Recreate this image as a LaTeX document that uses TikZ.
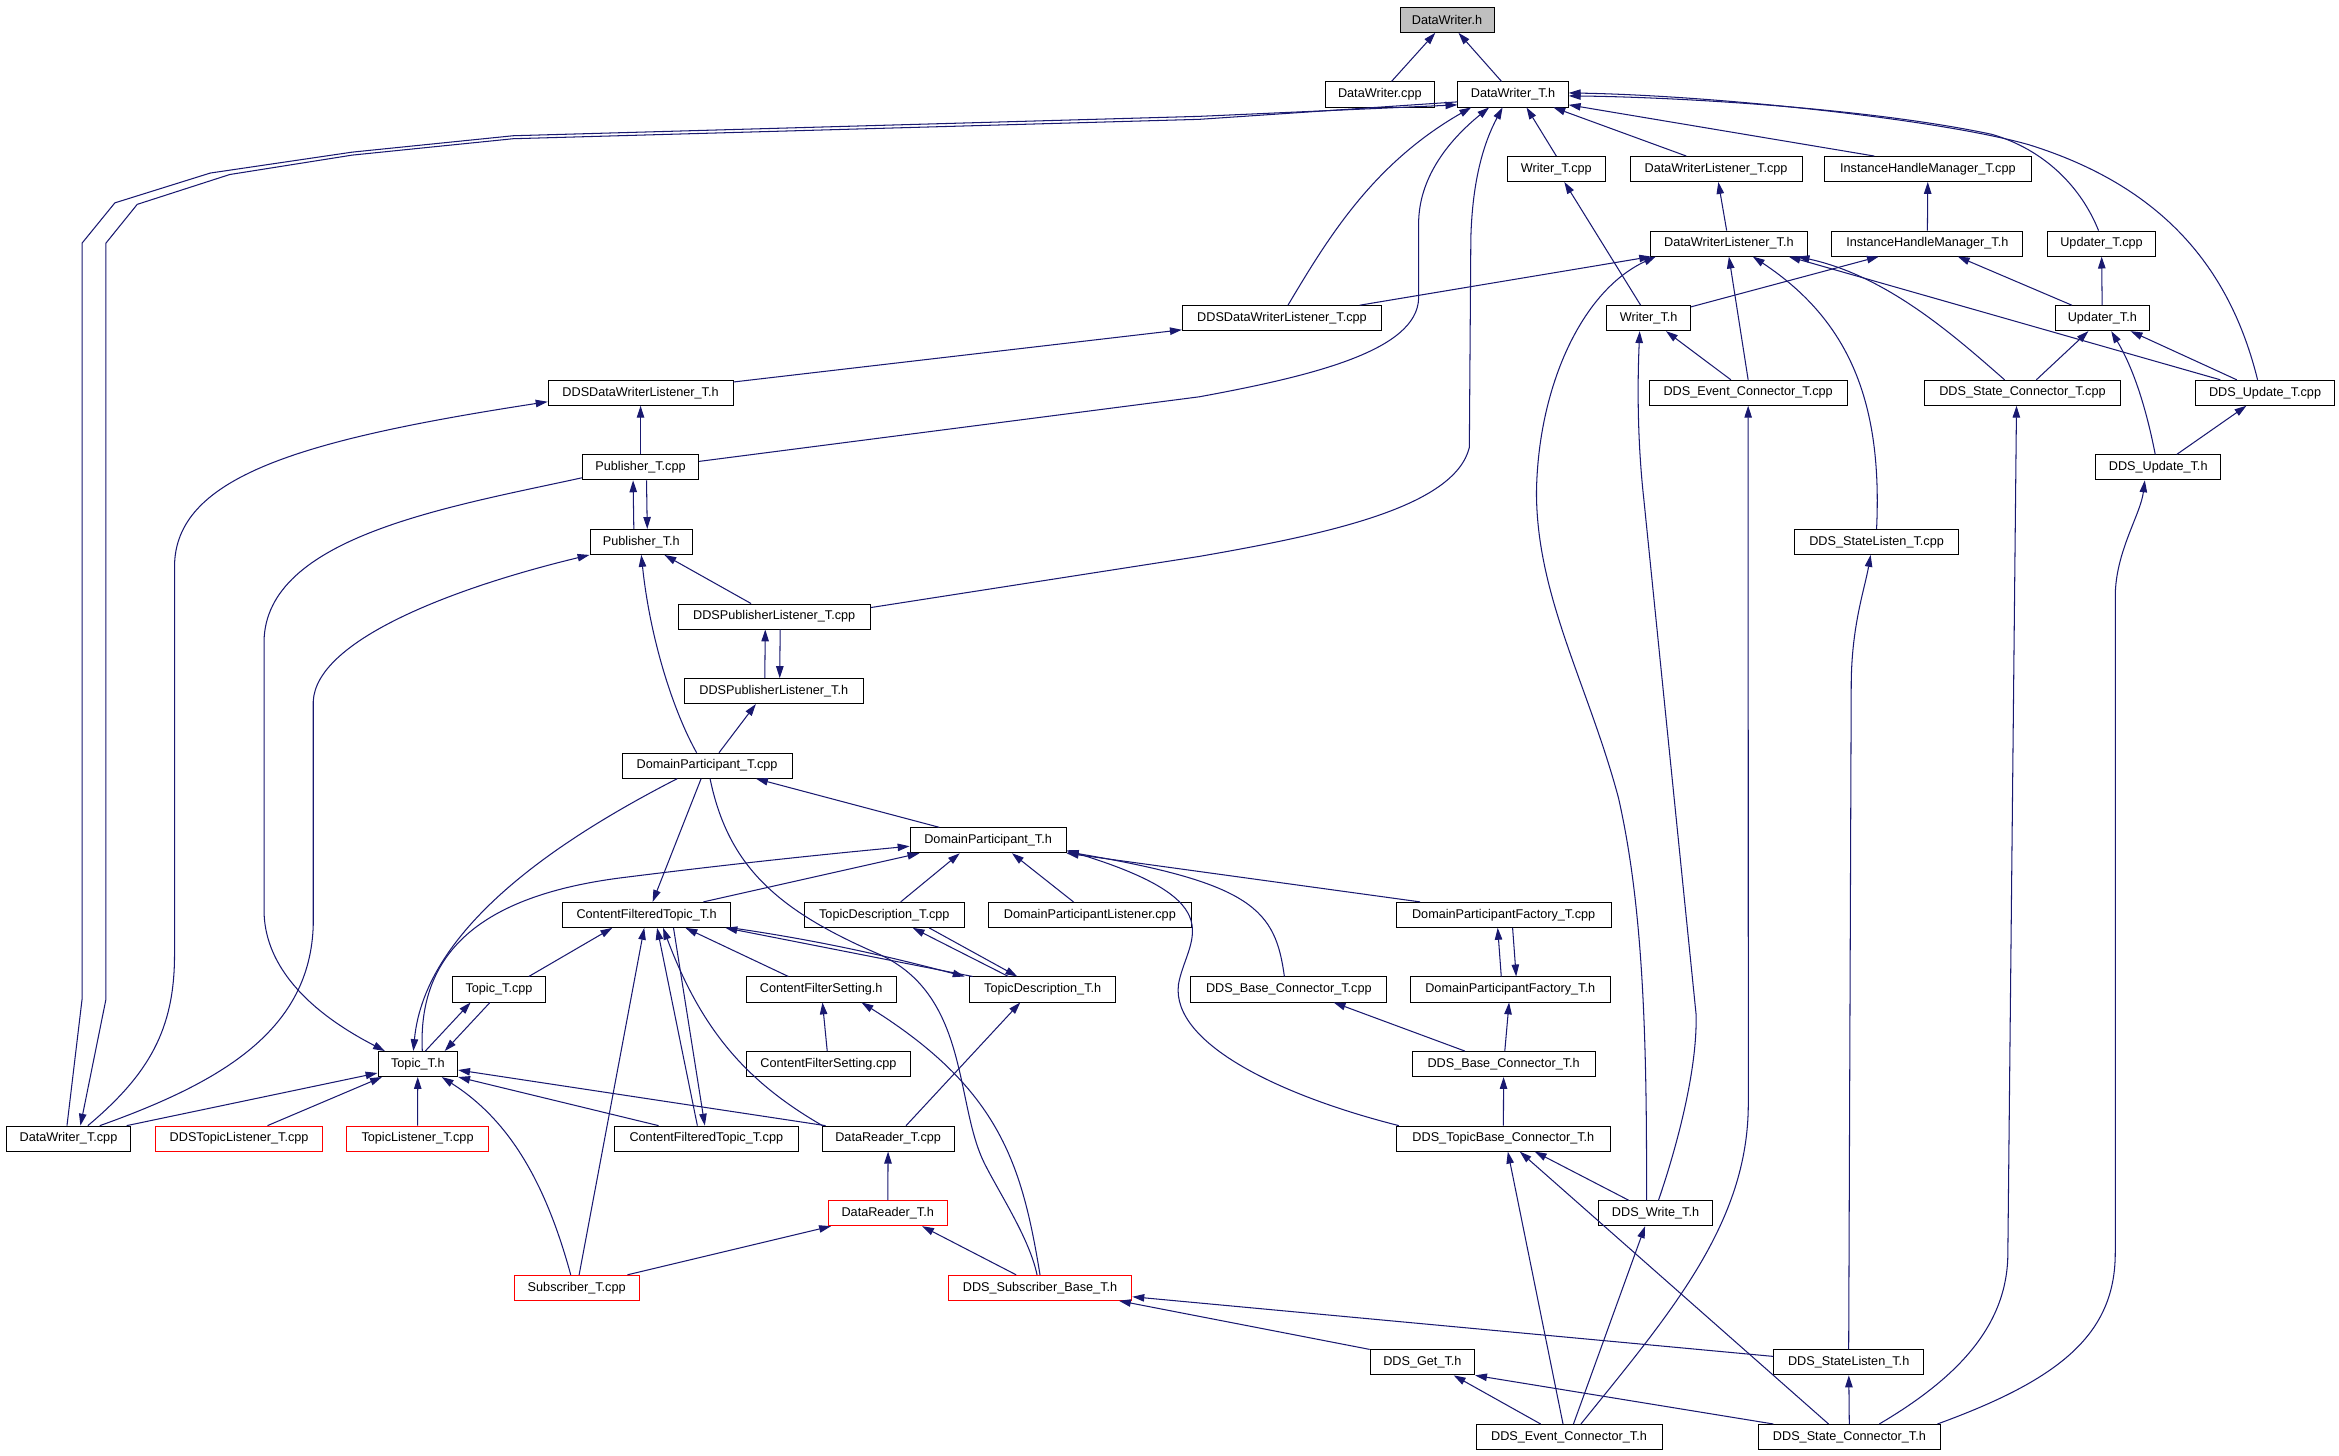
\documentclass[tikz,border=0pt]{standalone}
\usepackage{fontspec}
\setmainfont{Liberation Sans}
\usetikzlibrary{arrows.meta}
\definecolor{edgeblue}{HTML}{191970}
\definecolor{rootgrey}{HTML}{BFBFBF}

\begin{document}
\begin{tikzpicture}[x=1pt, y=-1pt,
	file/.style={draw, line width=0.6pt, fill=white, minimum height=16.8pt, inner sep=1pt, font=\fontsize{8.5}{10}\selectfont},
	redfile/.style={file, draw=red},
	dep/.style={draw=edgeblue, line width=0.7pt, -{Triangle[length=8pt, width=5pt]}},
	link/.style={draw=edgeblue, line width=0.7pt}]
	\useasboundingbox (0,0) rectangle (1568,976);

	% files, row by row
	\node[file, fill=rootgrey, minimum width=63pt] (dwh) at (970,13.3) {DataWriter.h};
	\node[file, minimum width=73.5pt] (dwcpp) at (925,63.3) {DataWriter.cpp};
	\node[file, minimum width=74pt] (dwth) at (1014.3,63.3) {DataWriter\_T.h};
	\node[file, minimum width=65.7pt] (wtcpp) at (1043.3,113.3) {Writer\_T.cpp};
	\node[file, minimum width=115.4pt] (dwlcpp) at (1150.4,113.3) {DataWriterListener\_T.cpp};
	\node[file, minimum width=138.4pt] (ihmcpp) at (1292.4,113.3) {InstanceHandleManager\_T.cpp};
	\node[file, minimum width=105.2pt] (dwlh) at (1159,163.3) {DataWriterListener\_T.h};
	\node[file, minimum width=128pt] (ihmh) at (1292,163.3) {InstanceHandleManager\_T.h};
	\node[file, minimum width=72pt] (updcpp) at (1408.8,163.3) {Updater\_T.cpp};
	\node[file, minimum width=133.6pt] (ddwlcpp) at (859.4,213.3) {DDSDataWriterListener\_T.cpp};
	\node[file, minimum width=56pt] (wth) at (1105.2,213.3) {Writer\_T.h};
	\node[file, minimum width=63.4pt] (updh) at (1409.3,213.3) {Updater\_T.h};
	\node[file, minimum width=124pt] (ddwlh) at (429.4,263.3) {DDSDataWriterListener\_T.h};
	\node[file, minimum width=132.8pt] (evcpp) at (1171.9,263.3) {DDS\_Event\_Connector\_T.cpp};
	\node[file, minimum width=131.5pt] (stcpp) at (1355.8,263.3) {DDS\_State\_Connector\_T.cpp};
	\node[file, minimum width=93.5pt] (upcpp) at (1518.4,263.3) {DDS\_Update\_T.cpp};
	\node[file, minimum width=78pt] (pubcpp) at (429.4,313.3) {Publisher\_T.cpp};
	\node[file, minimum width=83.7pt] (uph) at (1446.8,313.3) {DDS\_Update\_T.h};
	\node[file, minimum width=68.8pt] (pubh) at (429.9,363.3) {Publisher\_T.h};
	\node[file, minimum width=109.6pt] (slcpp) at (1258,363.3) {DDS\_StateListen\_T.cpp};
	\node[file, minimum width=128.7pt] (dplcpp) at (519,413.3) {DDSPublisherListener\_T.cpp};
	\node[file, minimum width=120pt] (dplh) at (518.7,463.3) {DDSPublisherListener\_T.h};
	\node[file, minimum width=113.9pt] (dpcpp) at (474,513.3) {DomainParticipant\_T.cpp};
	\node[file, minimum width=104.7pt] (dph) at (662.4,563.3) {DomainParticipant\_T.h};
	\node[file, minimum width=112.9pt] (cfth) at (433.5,613.3) {ContentFilteredTopic\_T.h};
	\node[file, minimum width=107.2pt] (tdcpp) at (592.8,613.3) {TopicDescription\_T.cpp};
	\node[file, minimum width=136.5pt] (dplistcpp) at (730.6,613.3) {DomainParticipantListener.cpp};
	\node[file, minimum width=144.2pt] (dpfcpp) at (1008,613.3) {DomainParticipantFactory\_T.cpp};
	\node[file, minimum width=62.6pt] (tcpp) at (334.5,663.3) {Topic\_T.cpp};
	\node[file, minimum width=100.6pt] (cfsh) at (550.5,663.3) {ContentFilterSetting.h};
	\node[file, minimum width=98pt] (tdh) at (699,663.3) {TopicDescription\_T.h};
	\node[file, minimum width=131.3pt] (bccpp) at (864,663.3) {DDS\_Base\_Connector\_T.cpp};
	\node[file, minimum width=134.4pt] (dpfh) at (1012.4,663.3) {DomainParticipantFactory\_T.h};
	\node[file, minimum width=53.4pt] (th) at (280.1,713.3) {Topic\_T.h};
	\node[file, minimum width=110.3pt] (cfscpp) at (555.4,713.3) {ContentFilterSetting.cpp};
	\node[file, minimum width=122.8pt] (bch) at (1008,713.3) {DDS\_Base\_Connector\_T.h};
	\node[file, minimum width=83.6pt] (dwtcpp) at (45.9,763.3) {DataWriter\_T.cpp};
	\node[redfile, minimum width=112.3pt] (dtlcpp) at (160.3,763.3) {DDSTopicListener\_T.cpp};
	\node[redfile, minimum width=95pt] (tlcpp) at (279.9,763.3) {TopicListener\_T.cpp};
	\node[file, minimum width=123.1pt] (cftcpp) at (473.5,763.3) {ContentFilteredTopic\_T.cpp};
	\node[file, minimum width=88.7pt] (drcpp) at (595.4,763.3) {DataReader\_T.cpp};
	\node[file, minimum width=143.7pt] (tbh) at (1007.8,763.3) {DDS\_TopicBase\_Connector\_T.h};
	\node[redfile, minimum width=80pt] (drh) at (595.1,813.3) {DataReader\_T.h};
	\node[file, minimum width=76pt] (wrh) at (1109.8,813.3) {DDS\_Write\_T.h};
	\node[redfile, minimum width=83.6pt] (subcpp) at (386.6,863.3) {Subscriber\_T.cpp};
	\node[redfile, minimum width=123.2pt] (sbh) at (697.2,863.3) {DDS\_Subscriber\_Base\_T.h};
	\node[file, minimum width=70pt] (geth) at (953.5,913.3) {DDS\_Get\_T.h};
	\node[file, minimum width=100.3pt] (slh) at (1239.3,913.3) {DDS\_StateListen\_T.h};
	\node[file, minimum width=124.7pt] (evh) at (1051.8,963.3) {DDS\_Event\_Connector\_T.h};
	\node[file, minimum width=121.7pt] (sth) at (1239.8,963.3) {DDS\_State\_Connector\_T.h};

	% top of the graph
	\draw[dep] (dwcpp) -- (dwh);
	\draw[dep] (dwth) -- (dwh);
	\draw[dep] (wtcpp.north) -- ([xshift=9pt]dwth.south);
	\draw[dep] ([xshift=-20pt]dwlcpp.north) -- ([xshift=27pt]dwth.south);
	\draw[dep] ([xshift=-36pt]ihmcpp.north) -- ([yshift=-7pt]dwth.east);
	\draw[dep] ([xshift=-5pt]upcpp.north) .. controls (1495,180) and (1450,125) .. (1360,97) .. controls (1300,80) and (1150,64) .. ([yshift=1pt]dwth.east);
	\draw[dep] ([xshift=-2pt]updcpp.north) .. controls (1395,125) and (1370,100) .. (1335,90) .. controls (1250,72) and (1120,65) .. ([yshift=-1pt]dwth.east);
	\draw[dep] ([xshift=4pt]ddwlcpp.north) .. controls (890,160) and (920,110) .. ([xshift=-28pt]dwth.south);
	\draw[dep] ([yshift=4pt]pubcpp.east) -- (804,266) .. controls (880,252) and (950,235) .. (951,200) -- (951,150) .. controls (951,120) and (970,95) .. ([xshift=-16pt]dwth.south);
	\draw[dep] ([yshift=6pt]dplcpp.east) -- (804,373) .. controls (890,358) and (975,340) .. (985,300) -- (986,160) .. controls (987,120) and (995,95) .. ([xshift=-7pt]dwth.south);
	\draw[dep] ([xshift=-1pt]dwtcpp.north) -- (55,670) -- (55,163) -- (77,136) -- (141,116) -- (236,102) -- (344,91) -- (804,78) -- ([yshift=-7pt]dwth.west); % two ways
	\draw[dep] ([yshift=-5pt]dwth.west) -- (804,80) -- (344,93) -- (236,104) -- (154,117) -- (92,137) -- (71,163) -- (71,670) -- ([xshift=8pt]dwtcpp.north);

	% writer listener block
	\draw[dep] (dwlh) -- (dwlcpp);
	\draw[dep] (ihmh) -- (ihmcpp);
	\draw[dep] (updh) -- (updcpp);
	\draw[dep] (wth) -- (wtcpp);
	\draw[dep] (ddwlcpp) -- (dwlh);
	\draw[dep] (wth) -- (ihmh);
	\draw[dep] (updh) -- (ihmh);
	\draw[dep] ([xshift=-12pt]stcpp.north) .. controls (1310,225) and (1265,185) .. ([xshift=46pt]dwlh.south);
	\draw[dep] ([xshift=-30pt]upcpp.north) -- ([xshift=40pt]dwlh.south);
	\draw[dep] (evcpp.north) -- (dwlh.south);
	\draw[dep] (slcpp.north) .. controls (1262,270) and (1240,215) .. ([xshift=16pt]dwlh.south);
	\draw[dep] ([xshift=-6pt]wrh.north) .. controls (1104,700) and (1102,610) .. (1085,535) .. controls (1065,460) and (1030,400) .. (1030,330) .. controls (1031,260) and (1060,195) .. ([xshift=-49pt]dwlh.south);
	\draw[dep] (evcpp) -- (wth);
	\draw[dep] ([xshift=2pt]wrh.north) .. controls (1122,775) and (1138,720) .. (1137,680) -- (1102,335) .. controls (1097,290) and (1098,250) .. ([xshift=-6pt]wth.south);
	\draw[dep] (stcpp) -- (updh);
	\draw[dep] (upcpp) -- (updh);
	\draw[dep] ([xshift=-2pt]uph.north) .. controls (1440,280) and (1432,250) .. ([xshift=6pt]updh.south);
	\draw[dep] (uph) -- (upcpp);

	% publisher side
	\draw[dep] (ddwlh) -- (ddwlcpp);
	\draw[dep] (pubcpp) -- (ddwlh);
	\draw[dep] ([xshift=13pt]dwtcpp.north) .. controls (100,720) and (117,690) .. (117,640) -- (117,380) .. controls (117,320) and (200,295) .. ([yshift=-6pt]ddwlh.west);
	\draw[dep] ([xshift=21pt]dwtcpp.north) .. controls (150,725) and (208,690) .. (210,620) -- (210,470) .. controls (212,430) and (300,395) .. (pubh.south west);
	\draw[dep] ([yshift=-7pt]pubcpp.west) .. controls (300,340) and (178,360) .. (177,430) -- (177,610) .. controls (177,660) and (230,690) .. ([xshift=-22pt]th.north);
	\draw[dep] (dplcpp) -- (pubh);
	\draw[dep] ([xshift=-7pt]dpcpp.north) .. controls (452,478) and (436,430) .. (pubh.south);
	\draw[dep] ([xshift=-5pt]pubh.north) -- ([xshift=-5pt]pubcpp.south); % two ways
	\draw[dep] ([xshift=4pt]pubcpp.south) -- ([xshift=4pt]pubh.north);
	\draw[dep] ([xshift=-6pt]dplh.north) -- ([xshift=-6pt]dplcpp.south); % two ways
	\draw[dep] ([xshift=4pt]dplcpp.south) -- ([xshift=4pt]dplh.north);
	\draw[dep] ([xshift=8pt]dpcpp.north) -- ([xshift=-12pt]dplh.south);

	% domain participant
	\draw[dep] (dph) -- (dpcpp);
	\draw[dep] ([xshift=-20pt]dpcpp.south) .. controls (380,560) and (285,620) .. ([xshift=-3pt]th.north);
	\draw[dep] ([xshift=3pt]th.north) .. controls (280,640) and (320,600) .. (420,588) .. controls (500,578) and (560,572) .. ([yshift=-4pt]dph.west);
	\draw[dep] ([xshift=-4pt]dpcpp.south) -- ([xshift=4pt]cfth.north);
	\draw[link] ([xshift=2pt]dpcpp.south) .. controls (488,580) and (520,610) .. (590,640) .. controls (650,668) and (640,740) .. (660,780) .. controls (670,800) and (690,830) .. ([xshift=-2pt]sbh.north);
	\draw[dep] ([xshift=38pt]cfth.north) -- ([xshift=-46pt]dph.south);
	\draw[dep] ([xshift=11pt]tdcpp.north) -- ([xshift=-19pt]dph.south);
	\draw[dep] ([xshift=-11pt]dplistcpp.north) -- ([xshift=16pt]dph.south);
	\draw[dep] ([xshift=-56pt]dpfcpp.north) -- (dph.south east);
	\draw[dep] ([xshift=-3pt]bccpp.north) .. controls (855,610) and (840,592) .. ([yshift=1pt]dph.south east);
	\draw[dep] ([xshift=-70pt]tbh.north) .. controls (860,735) and (785,700) .. (790,660) .. controls (795,630) and (830,605) .. ([yshift=2pt]dph.south east);

	% topics
	\draw[dep] ([xshift=-23pt]tdh.north) -- ([xshift=19pt]tdcpp.south); % two ways
	\draw[dep] ([xshift=30pt]tdcpp.south) -- ([xshift=-17pt]tdh.north);
	\draw[dep] ([xshift=-47pt]tdh.north) -- ([xshift=-4pt]cfth.south east); % two ways
	\draw[dep] (cfth.south east) .. controls (560,632) and (610,645) .. ([xshift=-3pt]tdh.north west);
	\draw[dep] ([xshift=20pt]tcpp.north) -- ([xshift=-23pt]cfth.south);
	\draw[dep] ([xshift=-22pt]cfsh.north) -- ([xshift=26pt]cfth.south);
	\draw[dep] (subcpp) -- (cfth);
	\draw[dep] ([xshift=-6pt]cftcpp.north) -- ([xshift=7pt]cfth.south); % two ways
	\draw[dep] ([xshift=18pt]cfth.south) -- ([xshift=-1pt]cftcpp.north);
	\draw[dep] ([xshift=-44pt]drcpp.north) .. controls (500,725) and (470,690) .. ([xshift=11pt]cfth.south);
	\draw[dep] ([xshift=12pt]drcpp.north) -- ([xshift=-15pt]tdh.south);
	\draw[dep] (cfscpp) -- (cfsh);
	\draw[dep] (sbh.north) .. controls (685,780) and (670,730) .. ([xshift=27pt]cfsh.south);
	\draw[dep] ([xshift=5pt]th.north) -- ([xshift=-19pt]tcpp.south); % two ways
	\draw[dep] ([xshift=-6pt]tcpp.south) -- ([xshift=18pt]th.north);
	\draw[dep] ([xshift=39pt]dwtcpp.north) -- ([yshift=-6pt]th.west);
	\draw[dep] ([xshift=19pt]dtlcpp.north) -- ([xshift=3pt]th.south west);
	\draw[dep] (tlcpp) -- (th);
	\draw[dep] ([xshift=-32pt]cftcpp.north) -- (th.south east);
	\draw[dep] ([xshift=-42pt]drcpp.north) -- ([yshift=-4pt]th.east);
	\draw[dep] ([xshift=-4pt]subcpp.north) .. controls (365,790) and (340,750) .. ([xshift=16pt]th.south);

	% readers and subscribers
	\draw[dep] (drh) -- (drcpp);
	\draw[dep] ([xshift=34pt]subcpp.north) -- ([xshift=-38pt]drh.south);
	\draw[dep] ([xshift=-16pt]sbh.north) -- ([xshift=23pt]drh.south);
	\draw[dep] (geth.north west) -- ([xshift=-9pt]sbh.south east);
	\draw[dep] ([yshift=4pt]slh.west) -- ([yshift=-6pt]sbh.east);

	% connectors
	\draw[dep] ([xshift=-6pt]dpfh.north) -- ([xshift=-4pt]dpfcpp.south); % two ways
	\draw[dep] ([xshift=6pt]dpfcpp.south) -- ([xshift=4pt]dpfh.north);
	\draw[dep] (bch) -- (dpfh);
	\draw[dep] ([xshift=-26pt]bch.north) -- ([xshift=30pt]bccpp.south);
	\draw[dep] (tbh) -- (bch);
	\draw[dep] ([xshift=-18pt]wrh.north) -- ([xshift=21pt]tbh.south);
	\draw[dep] ([xshift=-4pt]evh.north) -- ([xshift=3pt]tbh.south);
	\draw[dep] ([xshift=-14pt]sth.north) -- ([xshift=11pt]tbh.south);
	\draw[dep] ([xshift=3pt]evh.north) -- ([xshift=-7pt]wrh.south);
	\draw[dep] ([xshift=-19pt]evh.north) -- ([xshift=21pt]geth.south);
	\draw[dep] ([xshift=-51pt]sth.north) -- (geth.south east);
	\draw[dep] (sth) -- (slh);
	\draw[dep] ([xshift=8pt]evh.north) .. controls (1120,880) and (1172,820) .. (1172,740) -- (evcpp.south);
	\draw[dep] ([xshift=20pt]sth.north) .. controls (1310,925) and (1346,890) .. (1346,840) -- ([xshift=-4pt]stcpp.south);
	\draw[dep] ([xshift=59pt]sth.north) .. controls (1380,925) and (1418,895) .. (1418,840) -- (1418,400) .. controls (1418,370) and (1435,345) .. ([xshift=-9pt]uph.south);
	\draw[dep] (slh.north) -- (1241,460) .. controls (1241,420) and (1250,395) .. ([xshift=-4pt]slcpp.south);
\end{tikzpicture}
\end{document}
